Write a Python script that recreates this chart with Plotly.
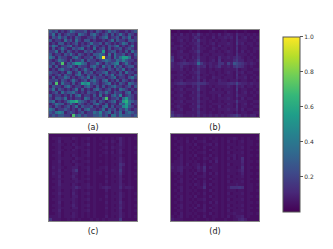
import plotly.graph_objects as go

panel_labels = ["(a)", "(b)", "(c)", "(d)"]
colorbar_ticks = [0.2, 0.4, 0.6, 0.8, 1.0]

# each character is one hexadecimal cell level
a_rows = [
"323121243222312132124232112123",
"241312322143213421231312421321",
"132423121321122312341223132412",
"312214231421331211212413221332",
"121331212312124223132121243121",
"243122341212231321213234121241",
"131242113234121412313122312321",
"224131321211323122612331213142",
"312213242132121334314142231213",
"431322113421223134B23142466412",
"212432131224132212343224353221",
"231281324664312242132345124212",
"313122342132213421423142312331",
"121342212312421312213213241212",
"322121431241323122341221314221",
"212313221342132213132412321213",
"131224312123241322212341221342",
"223132124212313421341213132121",
"318142213126562321234121321432",
"132213421221342131312342212313",
"241321212413121342123121432121",
"123142334212132213242132213412",
"312212131341221314121342512321",
"213324121221431221381223146321",
"341212466743212313212341267432",
"124331242132121342131221436412",
"213212312413223121341312256321",
"431223212131342212413231324212",
"324541232123122435234132413432",
"232332218342322334231442433323",
]
b_rows = [
"112111211211121111211121121111",
"232423243632323242343253323232",
"323333235423224233434262342323",
"223423243733232323323263332232",
"322332334523234233343273423323",
"233423233632323242333252332322",
"332332243533224323323262332233",
"223422334732233232343252423232",
"323333233523323333233263332322",
"623423243633233253343464323232",
"722342334833234262333574423323",
"434565445E74343366384B97643432",
"433533233645243463343686532322",
"333423243533232332333352332233",
"223332334633233232343253423322",
"333423233523323233233262332232",
"323332243633224332333253342323",
"233423333524233243323342332232",
"345654455766433344456595443433",
"323332243633232333343263423323",
"233423333733224232333272332232",
"323332243523233333243252342323",
"233422333633223242333263332232",
"323332243523323233343242423322",
"233423333633232232333373332233",
"323332243523223333243252342322",
"234322333733232242333262332233",
"323422243523223233343352423322",
"533323333633232232333242332233",
"745433343534343434345685343442",
]
c_rows = [
"222222222222222222222222222222",
"233433324323342323232323532323",
"223523332323232322342432532322",
"233432324323352323232323532322",
"223423332433232322342433432323",
"233432324323342323232323522322",
"223523333323242322342423532323",
"233423324323342323232333422322",
"223433332433232322232323532322",
"233523324323342323232333532323",
"233423332433232322232323752322",
"243432334423342323342333632323",
"233523335823242333242433832322",
"243433324423342323232333632323",
"233523335323232322242323522322",
"223433324423342322232333532323",
"233523333433232322242323522322",
"223533324323342323232333532322",
"233433334643343323454333634432",
"223423324323232322242333422322",
"233533325323342322232323532323",
"223423324423232322242333532322",
"233433334323342323232323522323",
"223523324323232322242333632322",
"233423335323342322232323532323",
"223433324423232322242333632322",
"233523333323342322232323522323",
"223423324323232322232333532322",
"333423334323232322242323532323",
"733322323232223232323333822222",
]
d_rows = [
"222222222222222222222222222222",
"232323224223232323233432323223",
"223324232334223323242323423322",
"232323324223342423233323323323",
"223423232324223323242333423222",
"232423323223242323233323323323",
"223323232334223323242333423222",
"232423324223242323233423323323",
"223423232324323423242423723222",
"233423323223242523233333623323",
"333424233424223323242333523222",
"434533323537243323233323723323",
"334523232436223323243334623222",
"232423324224242423233323523323",
"223323232334223323242333423222",
"232423324223242323233323323323",
"223423232324223323242333423222",
"232323324325242323233343323323",
"223423232337223323247778723322",
"232423323223242323233323323323",
"223323232324223323242333423222",
"232423324223242323233323323323",
"223423232334223323242333423222",
"232323323223242423233323323323",
"223423232424223323242333423222",
"232423324224242323233323323323",
"223323232334223323242333423222",
"232423323223242323233433323323",
"323423232324223323242344523222",
"433322223222323222322335642222",
]
# value of one level in each panel
a_unit = 0.09
b_unit = 0.024
c_unit = 0.02
d_unit = 0.019


def to_values(rows, unit):
    return [[int(ch, 16) * unit for ch in row] for row in rows]


matrices = [
    to_values(a_rows, a_unit),
    to_values(b_rows, b_unit),
    to_values(c_rows, c_unit),
    to_values(d_rows, d_unit),
]

W, H = 333, 249
boxes = [(49, 30, 137, 117), (171, 30, 259, 117), (49, 134, 137, 221), (171, 134, 259, 221)]

fig = go.Figure()
layout = {}
for i, (z, label, box) in enumerate(zip(matrices, panel_labels, boxes), start=1):
    sfx = "" if i == 1 else str(i)
    fig.add_trace(go.Heatmap(z=z, coloraxis="coloraxis", xaxis="x" + sfx, yaxis="y" + sfx, hoverongaps=False))
    x0, y0, x1, y1 = box
    layout["xaxis" + sfx] = dict(
        domain=[x0 / W, x1 / W], anchor="y" + sfx, showticklabels=False, ticks="", showgrid=False,
        zeroline=False, showline=True, mirror=True, linecolor="#888888", linewidth=1,
        title=dict(text=label, standoff=7, font=dict(size=8, family="DejaVu Sans", color="#222222")),
    )
    layout["yaxis" + sfx] = dict(
        domain=[1 - y1 / H, 1 - y0 / H], anchor="x" + sfx, showticklabels=False, ticks="", showgrid=False,
        zeroline=False, showline=True, mirror=True, linecolor="#888888", linewidth=1, autorange="reversed",
    )

fig.update_layout(
    width=W, height=H, margin=dict(l=0, r=0, t=0, b=0), paper_bgcolor="white", plot_bgcolor="white",
    coloraxis=dict(
        colorscale="Viridis", cmin=0, cmax=1,
        colorbar=dict(
            x=283 / W, xanchor="left", xref="paper", y=1 - 211.5 / H, yanchor="bottom", yref="paper",
            len=174.5 / H, lenmode="fraction", thickness=17, thicknessmode="pixels",
            tickvals=colorbar_ticks, ticktext=[f"{t:.1f}" for t in colorbar_ticks],
            ticks="outside", ticklen=3, tickwidth=1, tickcolor="#555555",
            tickfont=dict(size=6, family="DejaVu Sans", color="#333333"),
            outlinewidth=1, outlinecolor="#555555", xpad=0, ypad=0,
        ),
    ),
    **layout,
)
fig.write_html("out.html", config={"displayModeBar": False},
               post_script="document.body.style.margin='0';")
